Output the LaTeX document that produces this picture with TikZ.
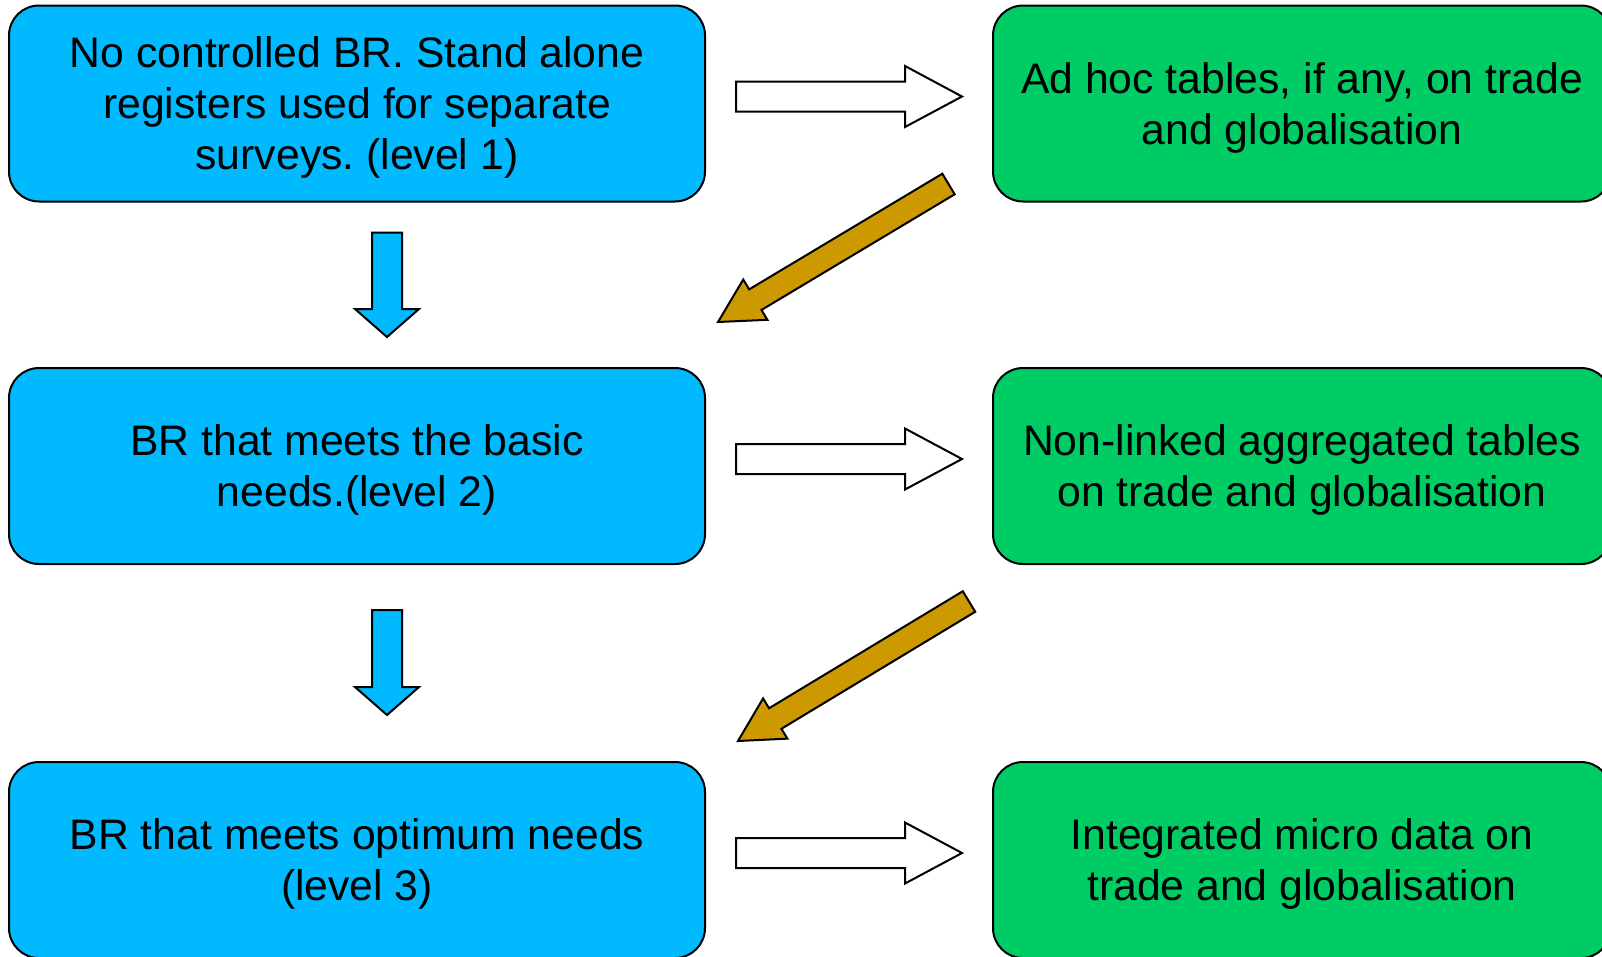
\documentclass[tikz,border=0pt]{standalone}
\usepackage{fontspec}
\setmainfont{Liberation Sans}
\usetikzlibrary{calc,positioning}
\definecolor{brblue}{RGB}{0,185,255}
\definecolor{tabgreen}{RGB}{0,204,102}
\definecolor{linkgold}{RGB}{204,153,0}
\frenchspacing

% block arrow: style, tail, tip, half shaft, half head, head length
\newcommand{\blockarrow}[6]{%
  \coordinate (bah) at ($(#3)!#6!(#2)$);
  \draw[#1] ($(#2)!#4!90:(#3)$) -- ($(bah)!#4!-90:(#2)$) -- ($(bah)!#5!-90:(#2)$) -- (#3)
    -- ($(bah)!#5!90:(#2)$) -- ($(bah)!#4!90:(#2)$) -- ($(#2)!#4!-90:(#3)$) -- cycle;}

\begin{document}
\begin{tikzpicture}[x=1pt,y=-1pt]
  \tikzstyle{box}=[draw, line width=2pt, rounded corners=30pt, align=center, inner sep=0pt, text depth=0pt, minimum height=196pt, font=\fontsize{42.7}{51}\selectfont]
  \tikzstyle{bluebox}=[box, fill=brblue, minimum width=696pt]
  \tikzstyle{greenbox}=[box, fill=tabgreen, minimum width=618pt]
  \tikzstyle{flatarrow}=[draw, line width=2pt, fill=white]
  \tikzstyle{downarrow}=[draw, line width=2pt, fill=brblue]
  \tikzstyle{backarrow}=[draw, line width=2pt, fill=linkgold]

  \useasboundingbox (0,0) rectangle (1602,956);

  % Register levels
  \node[bluebox] (b1) at (357,103.5) {No controlled BR. Stand alone\\registers used for separate\\surveys. (level 1)};
  \node[bluebox] (b2) at (357,466) {BR that meets the basic\\needs.(level 2)};
  \node[bluebox] (b3) at (357,860) {BR that meets optimum needs\\(level 3)};

  % Outputs
  \node[greenbox] (g1) at (1302,103.5) {Ad hoc tables, if any, on trade\\and globalisation};
  \node[greenbox] (g2) at (1302,466) {Non-linked aggregated tables\\on trade and globalisation};
  \node[greenbox] (g3) at (1302,860) {Integrated micro data on\\trade and globalisation};

  % Level to output
  \coordinate (w1a) at ($(b1.east)+(30,-7)$);
  \coordinate (w1b) at ($(g1.west)+(-30,-7)$);
  \coordinate (w2a) at ($(b2.east)+(30,-7)$);
  \coordinate (w2b) at ($(g2.west)+(-30,-7)$);
  \coordinate (w3a) at ($(b3.east)+(30,-7)$);
  \coordinate (w3b) at ($(g3.west)+(-30,-7)$);
  \blockarrow{flatarrow}{w1a}{w1b}{15pt}{30.5pt}{57pt}
  \blockarrow{flatarrow}{w2a}{w2b}{15pt}{30.5pt}{57pt}
  \blockarrow{flatarrow}{w3a}{w3b}{15pt}{30.5pt}{57pt}

  % Level to level
  \coordinate (d1a) at ($(b1.south)+(30,30)$);
  \coordinate (d1b) at ($(b2.north)+(30,-30)$);
  \coordinate (d2a) at ($(b2.south)+(30,45)$);
  \coordinate (d2b) at ($(b3.north)+(30,-46)$);
  \blockarrow{downarrow}{d1a}{d1b}{15pt}{32pt}{28pt}
  \blockarrow{downarrow}{d2a}{d2b}{15pt}{32pt}{28pt}

  % Output back to next level
  \coordinate (k1a) at ($(g1.south west)+(-43.5,-18.5)$);
  \coordinate (k1b) at ($(b2.north east)+(12,-45)$);
  \coordinate (k2a) at ($(g2.south west)+(-23,36.5)$);
  \coordinate (k2b) at ($(b3.north east)+(32,-20)$);
  \blockarrow{backarrow}{k1a}{k1b}{12pt}{23.5pt}{43.5pt}
  \blockarrow{backarrow}{k2a}{k2b}{12pt}{23.5pt}{43.5pt}
\end{tikzpicture}
\end{document}
